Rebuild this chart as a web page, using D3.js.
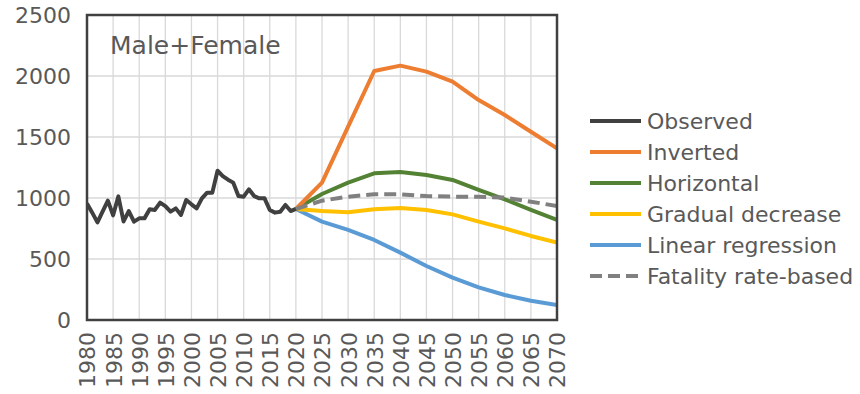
<!DOCTYPE html>
<html><head><meta charset="utf-8">
<script src="https://cdn.jsdelivr.net/npm/d3@7"></script>
<style>
body{margin:0;background:#fff;}
text{font-family:"DejaVu Sans",sans-serif;fill:#595959;}
</style></head>
<body><svg id="c" width="860" height="394"></svg>
<script>
const obsYears = d3.range(1980, 2021);
const observed = [955,880,800,890,978,858,1013,808,893,806,833,833,907,902,962,934,888,915,861,984,948,915,997,1044,1044,1224,1180,1150,1126,1016,1011,1071,1016,997,997,902,880,888,943,893,910];
const projYears = [2020,2025,2030,2035,2040,2045,2050,2055,2060,2065,2070];
const inverted   = [910,1126,1585,2041,2085,2036,1954,1803,1680,1543,1407];
const horizontal = [910,1033,1126,1202,1213,1189,1148,1066,989,902,820];
const gradual    = [910,893,883,907,918,902,866,806,751,689,634];
const linearReg  = [910,806,738,656,552,443,347,268,205,158,123];
const fatality   = [910,978,1011,1030,1030,1016,1011,1011,1003,970,934];
const yTicks = [0,500,1000,1500,2000,2500];
const xTicks = d3.range(1980, 2071, 5);
const seriesNames = ["Observed","Inverted","Horizontal","Gradual decrease","Linear regression","Fatality rate-based"];
const seriesColors = ["#404040","#ED7D31","#548235","#FFC000","#5B9BD5","#808080"];
const title = "Male+Female";

const svg = d3.select("#c");
const x = d3.scaleLinear().domain([1980,2070]).range([87,557]);
const y = d3.scaleLinear().domain([0,2500]).range([320,15]);

// gridlines
svg.append("g").selectAll("line").data(yTicks).join("line")
  .attr("x1",x(1980)).attr("x2",x(2070)).attr("y1",d=>y(d)).attr("y2",d=>y(d))
  .attr("stroke","#d9d9d9").attr("stroke-width",1.3);
svg.append("g").selectAll("line").data(xTicks).join("line")
  .attr("y1",y(0)).attr("y2",y(2500)).attr("x1",d=>x(d)).attr("x2",d=>x(d))
  .attr("stroke","#d9d9d9").attr("stroke-width",1.3);

// axes
const ya = svg.append("g").attr("transform",`translate(${x(1980)-16},0)`)
  .call(d3.axisLeft(y).tickValues(yTicks).tickFormat(d3.format("d")).tickSize(0).tickPadding(0));
ya.select(".domain").remove();
ya.selectAll("text").style("font-size","22px").attr("fill","#595959").attr("dy","0.36em");

const xa = svg.append("g").attr("transform",`translate(0,${y(0)+12})`)
  .call(d3.axisBottom(x).tickValues(xTicks).tickFormat(d3.format("d")).tickSize(0).tickPadding(0));
xa.select(".domain").remove();
xa.selectAll("text").style("font-size","22px").attr("fill","#595959")
  .attr("text-anchor","end").attr("transform","rotate(-90)").attr("x",0).attr("y",0).attr("dy","0.36em");

// clip
svg.append("clipPath").attr("id","clip").append("rect")
  .attr("x",x(1980)).attr("y",y(2500)).attr("width",x(2070)-x(1980)).attr("height",y(0)-y(2500));

const line = d3.line().x(d=>x(d[0])).y(d=>y(d[1]));
const g = svg.append("g").attr("clip-path","url(#clip)");
const proj = [inverted,horizontal,gradual,linearReg,fatality];
[linearReg,gradual,horizontal,inverted].forEach((vals)=>{
  const i = proj.indexOf(vals)+1;
  g.append("path").datum(projYears.map((yr,k)=>[yr,vals[k]]))
    .attr("d",line).attr("fill","none").attr("stroke",seriesColors[i])
    .attr("stroke-width",4).attr("stroke-linejoin","round");
});
g.append("path").datum(projYears.map((yr,k)=>[yr,fatality[k]]))
  .attr("d",line).attr("fill","none").attr("stroke",seriesColors[5])
  .attr("stroke-width",4).attr("stroke-dasharray","12,6");
g.append("path").datum(obsYears.map((yr,k)=>[yr,observed[k]]))
  .attr("d",line).attr("fill","none").attr("stroke",seriesColors[0])
  .attr("stroke-width",4).attr("stroke-linejoin","round");

// border
svg.append("rect").attr("x",x(1980)).attr("y",y(2500))
  .attr("width",x(2070)-x(1980)).attr("height",y(0)-y(2500))
  .attr("fill","none").attr("stroke","#404040").attr("stroke-width",2.5);

// title
svg.append("text").attr("x",110).attr("y",54).text(title)
  .style("font-size","25px").attr("fill","#404040");

// legend
const lg = svg.append("g");
seriesNames.forEach((n,i)=>{
  const yy = 121 + i*31;
  lg.append("line").attr("x1",590).attr("x2",641).attr("y1",yy).attr("y2",yy)
    .attr("stroke",seriesColors[i]).attr("stroke-width",4)
    .attr("stroke-dasharray", i===5 ? "12,6" : null);
  lg.append("text").attr("x",647).attr("y",yy).attr("dy","0.36em").text(n)
    .style("font-size","22px").attr("fill","#595959");
});
</script></body></html>
